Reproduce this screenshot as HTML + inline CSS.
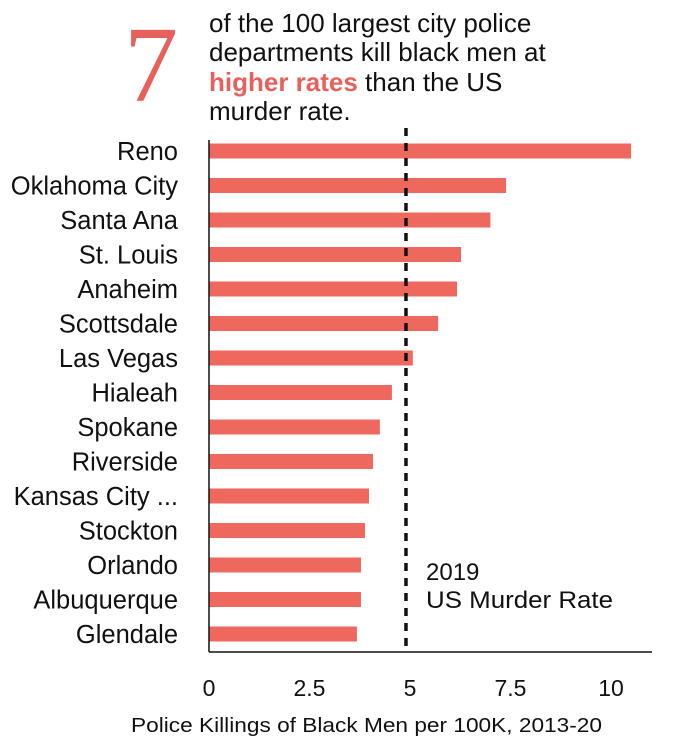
<!DOCTYPE html>
<html><head><meta charset="utf-8"><style>
body{margin:0;background:#fff;width:674px;height:746px;overflow:hidden;font-family:"Liberation Sans",sans-serif}
svg{display:block}
</style></head><body>
<svg id="c" width="674" height="746">
<text x="124" y="101" font-family="Liberation Serif,serif" font-size="108" fill="#e8605a">7</text>
<g font-size="26" fill="#111">
<text x="209" y="32">of the 100 largest city police</text>
<text x="209" y="61">departments kill black men at</text>
<text x="209" y="91"><tspan fill="#e8605a" font-weight="bold">higher rates</tspan> than the US</text>
<text x="209" y="120">murder rate.</text>
</g>
</svg>
<script>
const cities=["Reno","Oklahoma City","Santa Ana","St. Louis","Anaheim","Scottsdale","Las Vegas","Hialeah","Spokane","Riverside","Kansas City ...","Stockton","Orlando","Albuquerque","Glendale"];
const rates=[10.5,7.39,7.0,6.27,6.17,5.7,5.07,4.55,4.25,4.08,3.98,3.88,3.78,3.78,3.68];
const ticks=[0,2.5,5,7.5,10];
const tickLabels=["0","2.5","5","7.5","10"];
const murderRate=4.9;
const svg=document.getElementById('c');const NS='http://www.w3.org/2000/svg';
const x=v=>209+v*40.2;const y=i=>151+i*34.5;
function mk(t,a,txt){const e=document.createElementNS(NS,t);for(const k in a)e.setAttribute(k,a[k]);if(txt!==undefined)e.textContent=txt;svg.appendChild(e);return e;}
cities.forEach((c,i)=>{
const r=mk('rect',{x:x(0),y:y(i)-7.5,width:x(rates[i])-x(0),height:15,fill:'#ef685e'});


const t=mk('text',{x:178,y:y(i)+9,'text-anchor':'end','font-size':25.5,fill:'#111'},c);


});
const yl=mk('line',{x1:209,y1:140,x2:209,y2:652,stroke:'#111','stroke-width':1.5});


const xl=mk('line',{x1:209,y1:652,x2:652,y2:652,stroke:'#111','stroke-width':1.5});


ticks.forEach((v,i)=>{const t=mk('text',{x:x(v),y:696,'text-anchor':'middle','font-size':23,fill:'#111'},tickLabels[i]);

});
const dl=mk('line',{x1:x(murderRate),y1:128,x2:x(murderRate),y2:652,stroke:'#111','stroke-width':3.5,'stroke-dasharray':'8,7'});


const a1=mk('text',{x:426,y:580,'font-size':24,fill:'#111'},'2019');


const a2=mk('text',{x:426,y:608,'font-size':24,fill:'#111',textLength:187,lengthAdjust:'spacingAndGlyphs'},'US Murder Rate');


const xt=mk('text',{x:131,y:732,'font-size':20,fill:'#111',textLength:471,lengthAdjust:'spacingAndGlyphs'},'Police Killings of Black Men per 100K, 2013-20');


</script>
</body></html>
